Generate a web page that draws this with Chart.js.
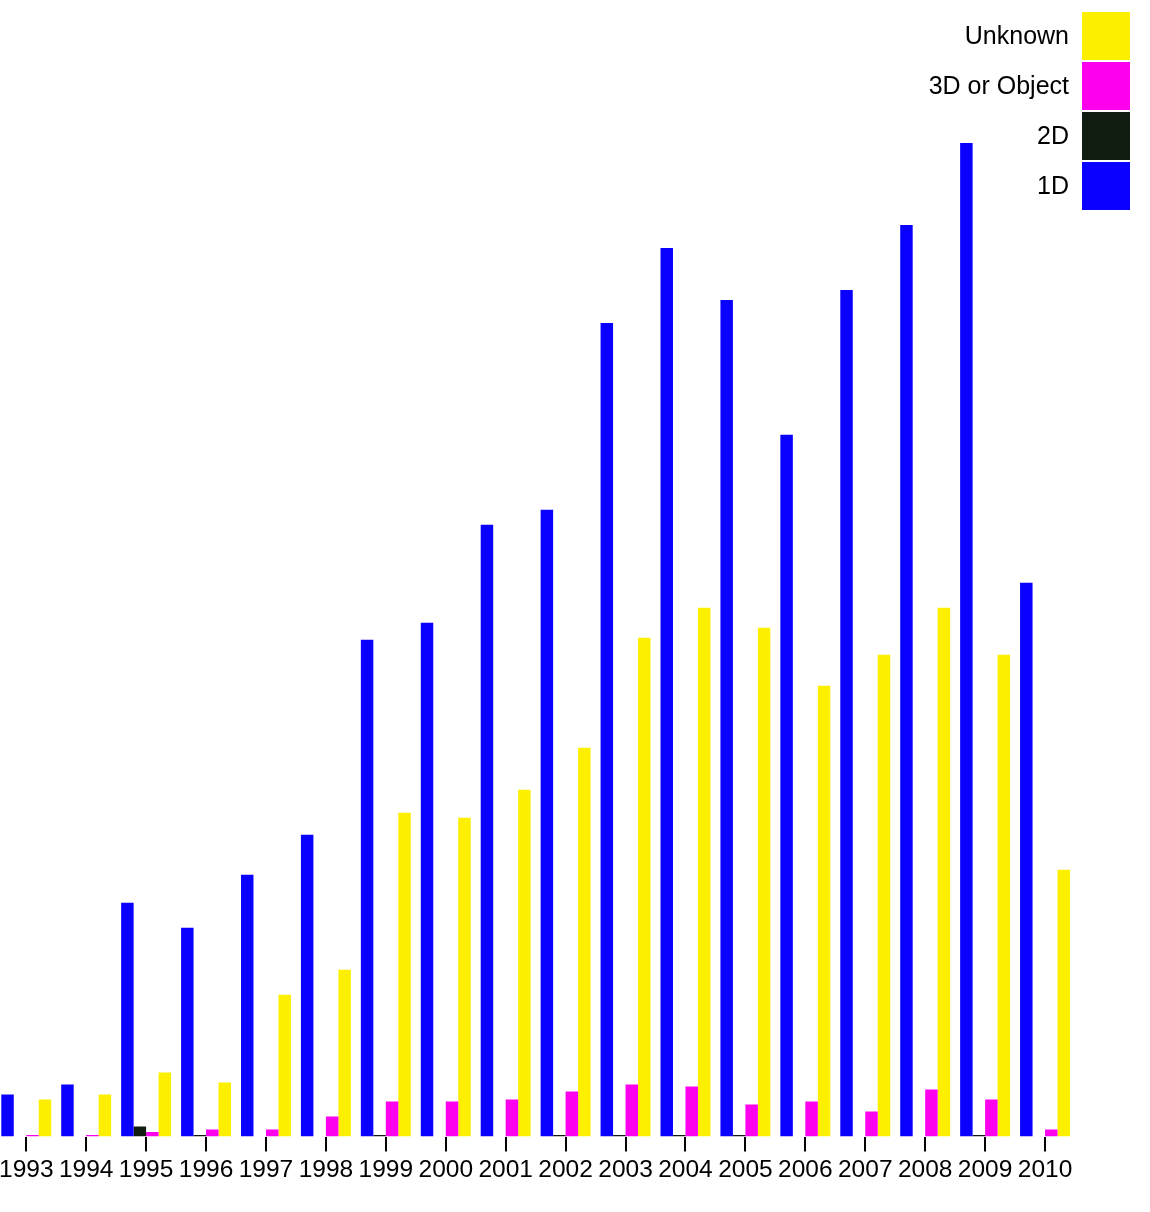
<!DOCTYPE html>
<html>
<head>
<meta charset="utf-8">
<script src="https://cdn.jsdelivr.net/npm/chart.js@4.4.1/dist/chart.umd.min.js"></script>
<style>
  html, body { margin: 0; padding: 0; background: #fff; overflow: hidden; }
  #wrap { position: absolute; left: -5px; top: 0; width: 1155px; height: 1212px; }
</style>
</head>
<body>
<div id="wrap"><canvas id="c"></canvas></div>
<script>
const years = ['1993','1994','1995','1996','1997','1998','1999','2000','2001','2002','2003','2004','2005','2006','2007','2008','2009','2010'];
const oneD    = [42, 52, 234, 209, 262, 302, 497, 514, 612, 627, 814, 889, 837, 702, 847, 912, 994, 554];
const twoD    = [0, 0, 10, 1.5, 0, 0, 1.5, 0, 0, 1.5, 1.5, 1.5, 1.5, 0, 0, 0, 1.5, 0];
const threeD  = [1.5, 1.5, 4.5, 7, 7, 20, 35, 35, 37, 45, 52, 50, 32, 35, 25, 47, 37, 7];
const unknown = [37, 42, 64, 54, 142, 167, 324, 319, 347, 389, 499, 529, 509, 451, 482, 529, 482, 267];
const seriesNames = ['1D', '2D', '3D or Object', 'Unknown'];
const seriesColors = ['#0a00ff', '#111c11', '#ff00ee', '#fcef00'];

const FONT = '"Liberation Sans", Arial, sans-serif';
const OFFSET = 5; // canvas shifted left by this many px

const legendPlugin = {
  id: 'sideLegend',
  afterDraw(chart) {
    const ctx = chart.ctx;
    ctx.save();
    const ds = chart.data.datasets;
    let k = 0;
    for (let i = ds.length - 1; i >= 0; i--) {
      const y0 = 12 + k * 50;
      ctx.fillStyle = ds[i].backgroundColor;
      ctx.fillRect(1082 + OFFSET, y0, 48, 48);
      ctx.fillStyle = '#000';
      ctx.font = '25px ' + FONT;
      ctx.textAlign = 'right';
      ctx.textBaseline = 'middle';
      ctx.fillText(ds[i].label, 1069 + OFFSET, y0 + 25);
      k++;
    }
    ctx.restore();
  }
};

new Chart(document.getElementById('c'), {
  type: 'bar',
  data: {
    labels: years,
    datasets: [oneD, twoD, threeD, unknown].map((d, i) => ({
      label: seriesNames[i],
      data: d,
      backgroundColor: seriesColors[i],
      borderWidth: 0,
      categoryPercentage: 50 / 60,
      barPercentage: 1.0
    }))
  },
  options: {
    responsive: true,
    maintainAspectRatio: false,
    animation: false,
    layout: { padding: { left: 0, right: 75, top: 0, bottom: 23 } },
    plugins: {
      legend: { display: false },
      tooltip: { enabled: false }
    },
    scales: {
      y: {
        display: false,
        min: 0,
        max: 1137
      },
      x: {
        offset: true,
        border: { display: false },
        grid: {
          offset: false,
          drawOnChartArea: false,
          drawTicks: true,
          tickLength: 15,
          color: '#000',
          lineWidth: 2
        },
        ticks: {
          color: '#000',
          font: { size: 24.5, family: FONT },
          padding: 4,
          maxRotation: 0,
          autoSkip: false
        }
      }
    }
  },
  plugins: [legendPlugin]
});
</script>
</body>
</html>
